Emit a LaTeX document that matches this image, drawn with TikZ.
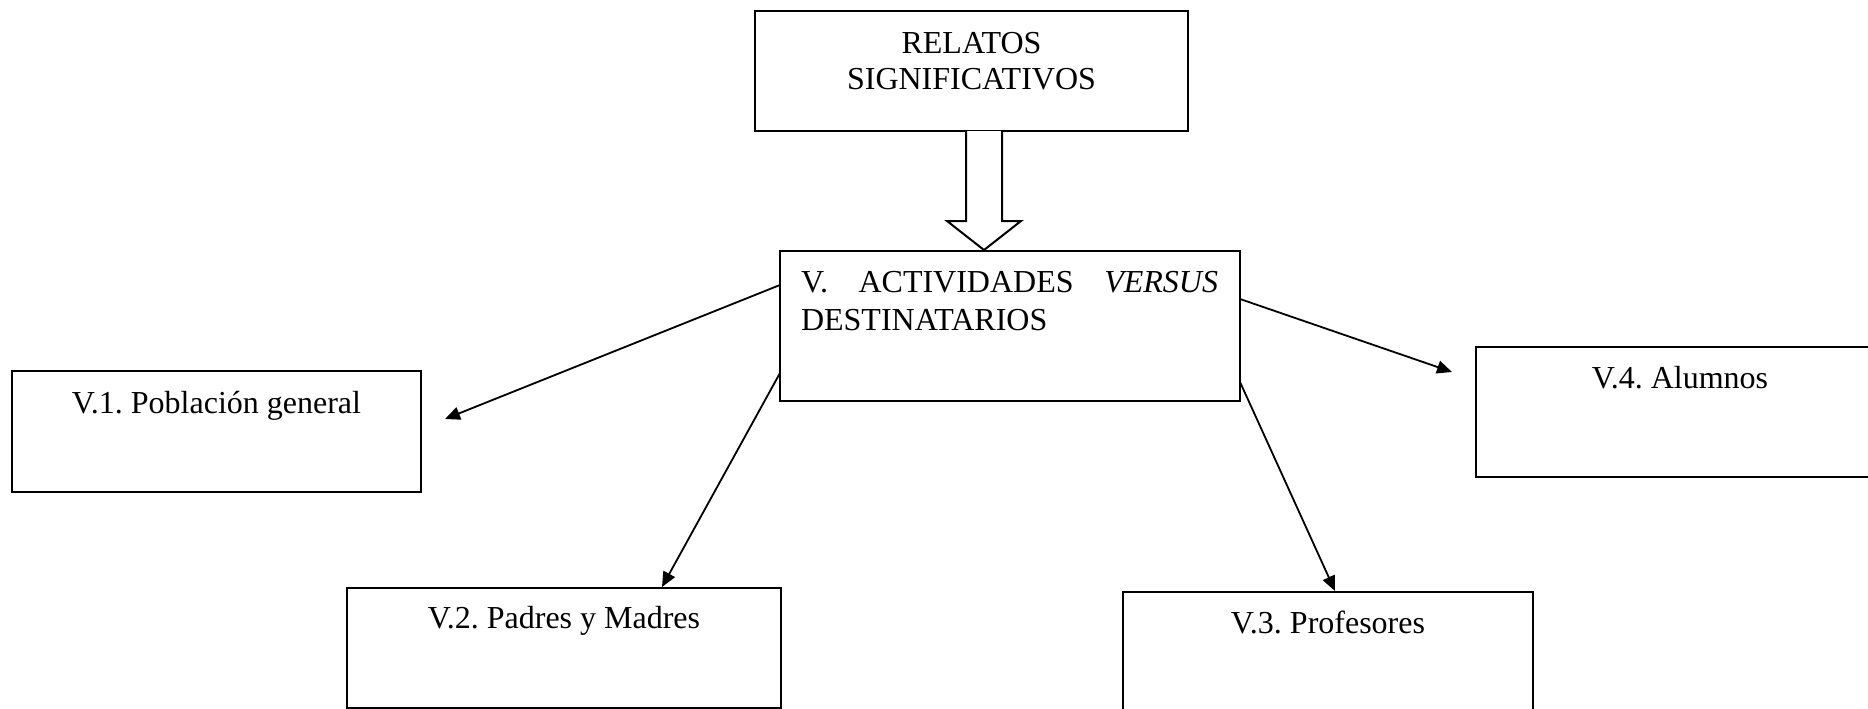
\documentclass[tikz,border=0pt]{standalone}
\usepackage{fontspec}
\setmainfont{Liberation Serif}
\usetikzlibrary{arrows.meta,calc}
\frenchspacing
\begin{document}
\begin{tikzpicture}[x=1pt,y=-1pt,
  box/.style={draw, line width=2pt, rectangle, inner sep=0pt, outer sep=0pt, anchor=north west},
  lbl/.style={font=\fontsize{32}{38}\selectfont, inner sep=0pt, outer sep=0pt},
  link/.style={line width=1.8pt, -{Triangle[length=15pt,width=13pt]}},
  blockarrow/.style={draw, line width=2pt, fill=white, line join=miter}]
\fill[white] (0,0) rectangle (1868,709);
\useasboundingbox (0,0) rectangle (1868,709);
\clip (0,0) rectangle (1868,709);

% boxes
\node[box, minimum width=433pt, minimum height=120pt] (top) at (755,11) {};
\node[box, minimum width=460pt, minimum height=150pt] (mid) at (780,251) {};
\node[box, minimum width=409pt, minimum height=121pt] (v1) at (12,371) {};
\node[box, minimum width=434pt, minimum height=120pt] (v2) at (347,588) {};
\node[box, minimum width=410pt, minimum height=125pt] (v3) at (1123,592) {};
\node[box, minimum width=450pt, minimum height=130pt] (v4) at (1476,347) {};

% box texts
\node[lbl, align=center, font=\fontsize{32}{36}\selectfont, anchor=north] (toptext)
  at ($(top.north)+(0,21)$) {RELATOS\\SIGNIFICATIVOS};
\node[lbl, text width=417pt, align=justify, anchor=north west] (midtext)
  at ($(mid.north west)+(21,20)$) {V. ACTIVIDADES \textit{VERSUS} DESTINATARIOS};
\node[lbl, anchor=base] (v1text) at ($(v1.north)+(0,42)$) {V.1. Población general};
\node[lbl, anchor=base] (v2text) at ($(v2.north)+(0,40)$) {V.2. Padres y Madres};
\node[lbl, anchor=base] (v3text) at ($(v3.north)+(0,41)$) {V.3. Profesores};
\node[lbl, anchor=base] (v4text) at ($(v4.north west)+(204,41)$) {V.4. Alumnos};

% hollow block arrow from the top box down to the central box
\coordinate (bsl) at ($(top.south west)+(211,0)$);
\coordinate (bsr) at ($(top.south west)+(247,0)$);
\coordinate (btip) at ($(mid.north west)+(204,-1)$);
\draw[blockarrow] (bsl) -- ++(0,90) -- ++(-19,0) -- (btip)
  -- ($(bsr)+(19,90)$) -- ($(bsr)+(0,90)$) -- (bsr);

% connectors to the four groups
\coordinate (e1) at ($(v1.north east)+(24,48)$);
\coordinate (e4) at ($(v4.north west)+(-24,25)$);
\draw[link] ($(mid.north west)+(0,34)$) -- (e1);
\draw[link] ($(mid.north west)+(0,122)$) -- ($(v2.north west)+(315,-1)$);
\draw[link] ($(mid.north east)+(0,131)$) -- ($(v3.north west)+(212,-1)$);
\draw[link] ($(mid.north east)+(0,48)$) -- (e4);
\end{tikzpicture}
\end{document}
